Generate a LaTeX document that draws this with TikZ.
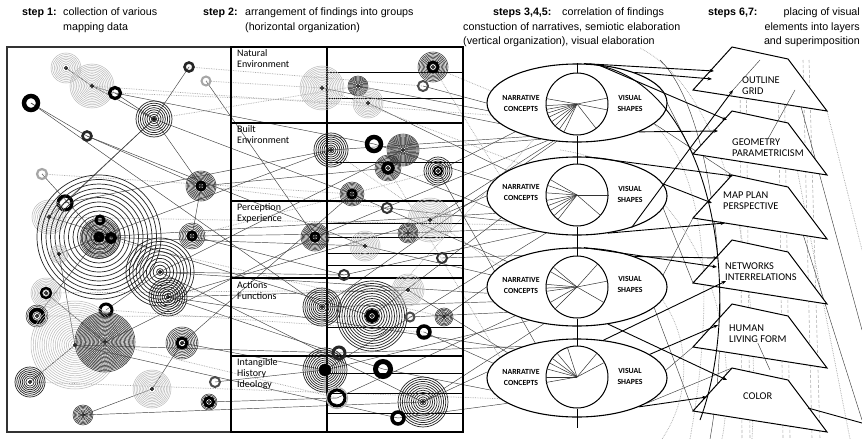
\documentclass[tikz,border=0pt]{standalone}
\usepackage{fontspec}
\setmainfont{Liberation Sans}
\newfontfamily\carl{Carlito}
\usetikzlibrary{shapes.geometric,arrows.meta}
\pgfdeclarelayer{bg}
\pgfsetlayers{bg,main}
\newcommand\cl[6]{%
  \coordinate (#1) at (#2,#3);
  \foreach \k in {0,...,35}{%
    \pgfmathsetmacro\myrr{#4-\k*#5}%
    \ifdim\myrr pt>2.5pt \draw[#6] (#1) circle[radius=\myrr pt];\fi
  }%
  \draw[black,line width=0.9pt] (#1) circle[radius=1.6pt];
}
\newcommand\rg[6]{%
  \coordinate (#1) at (#2,#3);
  \draw[#6,line width=#5pt] (#1) circle[radius=#4pt];
}
\newcommand\ringon[4]{\draw[#4,line width=#3pt] (#1) circle[radius=#2pt];}
\begin{document}
\begin{tikzpicture}[x=1pt,y=-1pt,
  hdr/.style={inner sep=0,font=\fontsize{10.7}{12}\selectfont},
  hdrb/.style={inner sep=0,font=\bfseries\fontsize{10.7}{12}\selectfont},
  grp/.style={inner sep=0,anchor=north west,align=left,font=\carl\fontsize{10}{11}\selectfont},
  elab/.style={inner sep=0,align=center,font=\carl\bfseries\fontsize{7.8}{11}\selectfont},
  tlab/.style={inner sep=0,anchor=west,align=left,font=\carl\fontsize{10.4}{11}\selectfont},
  ln/.style={gray!50!black,line width=0.45pt},
  dl/.style={gray!70,line width=0.7pt,densely dotted},
  vd/.style={gray!60,line width=0.6pt,densely dashed},
  bk/.style={black,line width=0.9pt},
  bka/.style={bk,-{Stealth[length=4.5pt,width=3.5pt]}},
  gring/.style={gray!55,line width=0.5pt},
  kring/.style={black!85,line width=0.7pt},
  dring/.style={gray!40!black,line width=0.55pt},
  fan/.style={gray!40!black,line width=0.5pt},
  grid/.style={black,line width=1.1pt},
  sgrid/.style={black,line width=0.8pt},
  ell/.style={ellipse,draw,fill=white,line width=1.1pt,minimum width=180pt,minimum height=78pt,inner sep=0},
  cir/.style={circle,draw,fill=white,line width=1pt,minimum size=62pt,inner sep=0},
  trap/.style={draw=black,fill=white,line width=1pt}]
\useasboundingbox (0,0) rectangle (862,439);
\begin{pgfonlayer}{bg}
\fill[white] (0,0) rectangle (862,439);
\end{pgfonlayer}

% headers
\node[hdrb,anchor=base west] (h1) at (22,15) {step 1:};
\node[hdr,anchor=base west] (h1a) at (63,15) {collection of various};
\node[hdr,anchor=base west] (h1b) at (63,30) {mapping data};
\node[hdrb,anchor=base west] (h2) at (203,15) {step 2:};
\node[hdr,anchor=base west] (h2a) at (245,15) {arrangement of findings into groups};
\node[hdr,anchor=base west] (h2b) at (245,30) {(horizontal organization)};
\node[hdrb,anchor=base west] (h3) at (493,15) {steps 3,4,5:};
\node[hdr,anchor=base west] (h3a) at (562,15) {correlation of findings};
\node[hdr,anchor=base west] (h3b) at (463,30) {constuction of narratives, semiotic elaboration};
\node[hdr,anchor=base west] (h3c) at (463,44) {(vertical organization), visual elaboration};
\node[hdrb,anchor=base west] (h4) at (708,15) {steps 6,7:};
\node[hdr,anchor=base east] (h4a) at (860,15) {placing of visual};
\node[hdr,anchor=base east] (h4b) at (860,30) {elements into layers};
\node[hdr,anchor=base east] (h4c) at (860,44) {and superimposition};

% boxes
\draw[line width=1.8pt,gray!40!black] (7,47) rectangle (231,432);
\draw[grid] (231,47) rectangle (463,432);
\draw[grid] (327,47) -- (327,432);
\foreach \y in {123,201,278,356} \draw[grid] (231,\y) -- (463,\y);
\foreach \y in {72,98,162,223,237,253,265,327,373,393,413} \draw[sgrid] (327,\y) -- (463,\y);

\node[grp] (g1) at (237,49) {Natural\\Environment};
\node[grp] (g2) at (237,125) {Built\\Environment};
\node[grp] (g3) at (237,203) {Perception\\Experience};
\node[grp] (g4) at (237,281) {Actions\\Functions};
\node[grp] (g5) at (237,358) {Intangible\\History\\Ideology};

% left clusters
\cl{a1}{66}{68}{15}{1.6}{gring}
\cl{a2}{92}{86}{22}{1.6}{gring}
\rg{a3}{115}{93}{5.5}{3.2}{black}
\rg{a4}{31}{103}{7}{4.5}{black}
\rg{a5}{189}{67}{4.5}{2.6}{black!85}
\rg{a6}{206}{81}{4.5}{2}{gray!70}
\cl{a7}{154}{119}{18}{2.2}{kring}
\rg{a8}{87}{136}{4.5}{2.6}{black!85}
\rg{a9}{42}{174}{5}{2.2}{gray!70}
\cl{a10}{201}{186}{15}{1.2}{dring}\ringon{a10}{4}{3}{black}
\rg{a11}{65}{203}{7}{3.2}{black}
\cl{a12}{49}{217}{17}{1.8}{gring}
\cl{a13}{99}{237}{62}{4.5}{kring}
\cl{a13i}{100}{238}{20}{1.3}{dring}
\ringon{a13}{3.5}{4}{black}
\rg{a13b}{111}{238}{4}{4}{black}
\rg{a13c}{100}{220}{4}{3}{black}
\cl{a14}{192}{236}{13}{1.5}{dring}\ringon{a14}{4}{3}{black}
\cl{a15}{160}{272}{34}{3.4}{kring}
\cl{a16}{168}{297}{19}{2.2}{kring}
\cl{a17}{59}{254}{9}{1.5}{gring}
\cl{a18}{46}{293}{15}{1.5}{gring}\ringon{a18}{5}{2.5}{black}
\cl{a19}{37}{316}{11}{1.5}{dring}\ringon{a19}{6.5}{3.5}{black}
\rg{a20}{106}{310}{6}{3}{black}
\cl{a21}{75}{345}{44}{2.2}{gring}
\cl{a22}{105}{342}{30}{1.3}{dring}
\cl{a23}{182}{343}{16}{1.5}{dring}\ringon{a23}{5}{3}{black}
\cl{a24}{30}{382}{15}{1.8}{kring}
\cl{a25}{152}{389}{19}{1.5}{gring}
\cl{a26}{83}{415}{10}{1.2}{dring}
\rg{a27}{215}{382}{5}{2}{gray!60!black}
\cl{a28}{209}{402}{8}{1.2}{dring}\ringon{a28}{4.5}{3}{black}

% middle clusters
\cl{b1}{322}{88}{22}{1.6}{gring}
\cl{b2}{358}{86}{10}{1}{dring}
\cl{b3}{433}{67}{15}{1.3}{dring}\ringon{b3}{5}{3}{black}
\rg{b4}{423}{86}{5}{2}{gray!60!black}
\cl{b5}{368}{103}{15}{1.5}{gring}
\cl{b6}{331}{150}{17}{2}{kring}
\rg{b7}{374}{144}{7}{4.5}{black}
\cl{b8}{403}{150}{16}{1}{dring}
\cl{b9}{388}{168}{13}{1.2}{dring}\ringon{b9}{5}{3.5}{black}
\cl{b10}{438}{171}{14}{2}{kring}\ringon{b10}{4}{2}{black}
\cl{b11}{352}{194}{12}{1.2}{dring}\ringon{b11}{4}{3}{black}
\rg{b12}{387}{208}{5}{2}{black!80}
\cl{b13}{430}{220}{22}{1.6}{gring}
\cl{b14}{315}{237}{14}{1.2}{dring}\ringon{b14}{4}{3}{black}
\cl{b15}{365}{246}{15}{1.5}{gring}
\cl{b16}{408}{233}{10}{1.2}{dring}
\rg{b17}{442}{258}{5}{2}{black!80}
\rg{b18}{344}{275}{5}{2}{black!80}
\cl{b19}{322}{307}{19}{2}{kring}
\cl{b20}{372}{316}{35}{2.5}{kring}\ringon{b20}{5}{4}{black}
\cl{b21}{408}{290}{16}{1.5}{gring}
\rg{b22}{410}{317}{4.5}{2}{gray!60!black}
\cl{b23}{444}{317}{9}{1.2}{dring}
\rg{b24}{424}{332}{6}{3.5}{black}
\rg{b25}{339}{353}{6}{3}{black!85}
\cl{b26}{325}{370}{22}{2}{kring}\ringon{b26}{3}{6}{black}
\rg{b27}{383}{369}{7.5}{5}{black}
\rg{b28}{337}{398}{8}{3}{black}\ringon{b28}{10.5}{1.2}{gray!60}
\cl{b29}{423}{402}{25}{2.2}{kring}
\rg{b30}{398}{418}{6}{3.5}{black}

% ellipses and circles
\node[ell] (E1) at (577,103) {};
\node[ell] (E2) at (577,196) {};
\node[ell] (E3) at (577,287) {};
\node[ell] (E4) at (577,378) {};
\node[cir] (C1) at (577,104) {};
\node[cir] (C2) at (577,195) {};
\node[cir] (C3) at (577,287) {};
\node[cir] (C4) at (577,377) {};
\coordinate (sp) at (577,428);
\draw[bk] (E1.north) -- (C1.north) (C1.south) -- (C2.north) (C2.south) -- (C3.north)
  (C3.south) -- (C4.north) (C4.south) -- (sp);
\foreach \a in {170,183,190,197,205,215,225,235,245,11,349,308} \draw[fan] (C1.center) -- (C1.\a);
\foreach \a in {150,162,176,190,200,210,222,232,0,319} \draw[fan] (C2.center) -- (C2.\a);
\foreach \a in {140,150,175,182,188,210,225,48,11,330} \draw[fan] (C3.center) -- (C3.\a);
\foreach \a in {108,130,143,153,165,180,190,50,28} \draw[fan] (C4.center) -- (C4.\a);
\node[elab] (n1) at (521,103) {NARRATIVE\\CONCEPTS};
\node[elab] (v1) at (630,103) {VISUAL\\SHAPES};
\node[elab] (n2) at (521,192) {NARRATIVE\\CONCEPTS};
\node[elab] (v2) at (630,194) {VISUAL\\SHAPES};
\node[elab] (n3) at (521,285) {NARRATIVE\\CONCEPTS};
\node[elab] (v3) at (630,284) {VISUAL\\SHAPES};
\node[elab] (n4) at (521,377) {NARRATIVE\\CONCEPTS};
\node[elab] (v4) at (630,376) {VISUAL\\SHAPES};

% trapezoid layers
\foreach \i/\yy in {1/47,2/111,3/175,4/240,5/304,6/368}{
  \coordinate (T\i a) at (732,\yy);
  \coordinate (T\i b) at (788,\yy+12);
  \coordinate (T\i c) at (827,\yy+64);
  \coordinate (T\i d) at (693,\yy+43);
  \draw[trap] (T\i a) -- (T\i b) -- (T\i c) -- (T\i d) -- cycle;
}
\node[tlab] (L1) at (742,85.5) {OUTLINE\\GRID};
\node[tlab] (L2) at (732,148) {GEOMETRY\\PARAMETRICISM};
\node[tlab] (L3) at (723,200.5) {MAP PLAN\\PERSPECTIVE};
\node[tlab] (L4) at (725,271.5) {NETWORKS\\INTERRELATIONS};
\node[tlab] (L5) at (729,334) {HUMAN\\LIVING FORM};
\node[tlab] (L6) at (743,396) {COLOR};

% arrow tips
\coordinate (p1a) at (714,71);
\coordinate (p1b) at (712,79);
\coordinate (p1c) at (733,90);
\coordinate (p2a) at (727,120);
\coordinate (p2b) at (718,131);
\coordinate (p3a) at (733,176);
\coordinate (p3b) at (712,203);
\coordinate (p3c) at (725,223);
\coordinate (p4a) at (718,258);
\coordinate (p4b) at (717,267);
\coordinate (p4c) at (726,281);
\coordinate (p5a) at (718,325);
\coordinate (p6a) at (727,380);
\coordinate (p6b) at (707,397);
\draw[bka] (E1.80) -- (p1a);
\draw[bka] (E1.28) -- (p1b);
\draw[bka] (E2.330) -- (p1c);
\draw[bka] (E1.62) -- (p2a);
\draw[bka] (E1.335) -- (p2b);
\draw[bka] (E2.78) -- (p3a);
\draw[bka] (E2.8) -- (p3b);
\draw[bka] (E2.310) -- (p3c);
\draw[bka] (E3.28) -- (p4a);
\draw[bka] (E3.80) -- (p4b);
\draw[bka] (E4.55) -- (p4c);
\draw[bka] (E4.18) -- (p5a);
\draw[bka] (E3.310) -- (p6a);
\draw[bka] (E4.335) -- (p6b);
\coordinate (qa) at (700,420);
\draw[bk] (E1.72) .. controls (715,80) and (745,300) .. (qa);
\coordinate (q6) at (808,408);
\coordinate (q7) at (862,423);
\draw[bk] (q6) -- (q7);
\coordinate (q1) at (760,60);
\draw[ln] (p1c) -- (q1);
\coordinate (q2) at (795,90);
\draw[ln] (L2.north) -- (q2);
\coordinate (q3) at (770,370);
\draw[ln] (L5.south) -- (q3);

% background connectors
\begin{pgfonlayer}{bg}
\foreach \u/\v in {a1/a2,a2/a3,a3/a7,a2/a7,a4/b19,a7/a10,a7/b11,a8/a10,a6/b14,a10/b9,
  a10/a14,a12/a7,a11/a7,a13/b6,a13/b15,a14/b16,a14/b18,a15/b18,a16/b21,a16/b13,a17/a21,
  a18/a22,a20/a15,a22/b14,a23/b11,a23/a25,a25/a26,a23/b26,a27/b26,a28/b28,a24/a21,a13/a17,
  a15/b8,a16/b27,a21/b25,a5/a7,a8/b15,a12/b20,a19/a13,a11/b6,a4/a8,a9/a13,a3/b7,a15/b29,
  a21/b30,a26/b29}
  \draw[ln] (\u) -- (\v);
\foreach \u/\v in {a6/b1,a9/b11,a20/b24,a19/b22,a22/b28,a14/b10,a5/b4,a3/b5,a13/b23,a10/b12,
  a18/b21,a7/b2,a2/E1.188,a12/E2.205,a24/E4.195}
  \draw[dl] (\u) -- (\v);
\foreach \u/\v in {b1/E1.195,b2/E1.185,b4/E1.180,b5/E2.160,b6/E1.215,b7/E2.170,b8/E1.225,
  b9/E2.188,b10/E1.205,b11/E3.160,b12/E2.200,b13/E2.180,b14/E1.232,b15/E3.172,b16/E2.212,
  b17/E3.150,b18/E2.222,b19/E3.190,b20/E2.196,b21/E4.160,b22/E3.200,b23/E3.180,b24/E4.170,
  b25/E4.150,b26/E3.215,b27/E4.188,b28/E3.205,b29/E4.176,b30/E4.200,b10/E4.140,b13/E1.238,
  b19/E1.242,b26/E2.230,b29/E3.228,a13/E2.192,a15/E3.184,a16/E4.155}
  \draw[ln] (\u) -- (\v);
\foreach \u/\v in {b3/E1.172,b3/E2.165,b6/E3.165,b9/E4.165,b1/E2.150,b20/E1.220}
  \draw[dl] (\u) -- (\v);
\foreach \u/\v in {E1.12/T2d,E2.352/T4d,E3.8/T3d,E4.5/T5d,E1.345/T3a,E3.345/T6d,E4.340/T6a}
  \draw[ln] (\u) -- (\v);
% right side arcs and verticals
\coordinate (r1) at (610,100); \coordinate (r2) at (690,439);
\draw[dl] (r1) .. controls (700,120) and (722,260) .. (r2);
\coordinate (r3) at (560,150); \coordinate (r4) at (722,439);
\draw[dl] (r3) .. controls (700,170) and (742,330) .. (r4);
\coordinate (r5) at (600,250); \coordinate (r6) at (662,439);
\draw[dl] (r5) .. controls (690,290) and (702,380) .. (r6);
\coordinate (r7) at (640,48); \coordinate (r8) at (752,439);
\draw[dl] (r7) .. controls (722,90) and (762,250) .. (r8);
\coordinate (r9) at (660,60); \coordinate (r10) at (710,439);
\draw[ln] (r9) .. controls (712,110) and (735,300) .. (r10);
\foreach \x/\xx in {740/742,746/750,778/783,784/790,803/812,809/820}
  \draw[vd] (\x,60) -- (\xx,439);
\coordinate (s1) at (862,330); \coordinate (s2) at (850,439);
\coordinate (s3) at (862,420); \coordinate (s4) at (862,250);
\draw[ln] (T1b) -- (s1);
\draw[dl] (T2b) -- (s2);
\draw[ln] (T3b) -- (s3);
\draw[dl] (T1c) -- (s4);
\end{pgfonlayer}
\end{tikzpicture}
\end{document}
